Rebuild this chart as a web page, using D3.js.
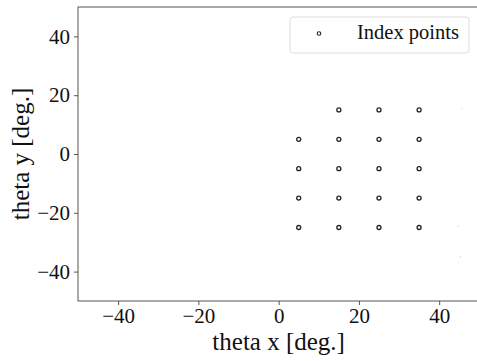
<!DOCTYPE html>
<html>
<head>
<meta charset="utf-8">
<script src="https://cdn.jsdelivr.net/npm/d3@7"></script>
<style>
  body { margin: 0; background: #fff; }
  svg { display: block; font-family: 'Liberation Serif', 'DejaVu Serif', serif; }
</style>
</head>
<body>
<svg id="chart" width="477" height="361"></svg>
<script>
// index point grid (deg.)
const pointX = [15, 25, 35, 5, 15, 25, 35, 5, 15, 25, 35, 5, 15, 25, 35, 5, 15, 25, 35];
const pointY = [15, 15, 15, 5, 5, 5, 5, -5, -5, -5, -5, -15, -15, -15, -15, -25, -25, -25, -25];
// barely visible marks near the right edge
const faintX = [45.7, 44.8, 45.3];
const faintY = [15.5, -24.6, -35];
const xTicks = [-40, -20, 0, 20, 40];
const yTicks = [-40, -20, 0, 20, 40];

const svg = d3.select('#chart');
const plotLeft = 78, plotTop = 7, plotBottom = 301;

const x = d3.scaleLinear().domain([-50, 50]).range([plotLeft, 479.3]);
const y = d3.scaleLinear().domain([-50, 50]).range([plotBottom, plotTop]);

const points = pointX.map((v, i) => ({ x: v, y: pointY[i] }));
const faint = faintX.map((v, i) => ({ x: v, y: faintY[i] }));

// frame
svg.append('rect')
  .attr('x', x(-50)).attr('y', y(50))
  .attr('width', x(50) - x(-50)).attr('height', y(-50) - y(50))
  .attr('fill', 'none').attr('stroke', '#555').attr('stroke-width', 1);

const fmt = d => d < 0 ? '\u2212' + Math.abs(d) : d;

const xAxis = svg.append('g')
  .attr('transform', `translate(0,${plotBottom})`)
  .call(d3.axisBottom(x).tickValues(xTicks).tickSize(4).tickPadding(3).tickFormat(fmt));
const yAxis = svg.append('g')
  .attr('transform', `translate(${plotLeft},0)`)
  .call(d3.axisLeft(y).tickValues(yTicks).tickSize(4).tickPadding(4).tickFormat(fmt));

[xAxis, yAxis].forEach(a => {
  a.select('.domain').remove();
  a.selectAll('line').attr('stroke', '#555');
  a.selectAll('text').attr('fill', '#111').style('font-size', '21px').style('font-family', 'Liberation Serif, serif');
});

svg.append('text')
  .attr('x', x(0)).attr('y', 350)
  .attr('text-anchor', 'middle')
  .style('font-size', '25px').attr('fill', '#111')
  .text('theta x [deg.]');

svg.append('text')
  .attr('transform', `translate(29,${y(0)}) rotate(-90)`)
  .attr('text-anchor', 'middle')
  .style('font-size', '25px').attr('fill', '#111')
  .text('theta y [deg.]');

svg.append('g').selectAll('circle')
  .data(points)
  .join('circle')
  .attr('cx', d => x(d.x))
  .attr('cy', d => y(d.y))
  .attr('r', 2)
  .attr('fill', 'none')
  .attr('stroke', '#222')
  .attr('stroke-width', 1.3);

svg.append('g').selectAll('circle')
  .data(faint)
  .join('circle')
  .attr('cx', d => x(d.x))
  .attr('cy', d => y(d.y))
  .attr('r', 0.8)
  .attr('fill', '#ddd');

// legend
const lg = svg.append('g');
lg.append('rect')
  .attr('x', 290).attr('y', 17).attr('width', 179).attr('height', 36)
  .attr('rx', 3)
  .attr('fill', '#fff').attr('stroke', '#ddd').attr('stroke-width', 1);
lg.append('circle')
  .attr('cx', 319).attr('cy', 33.5).attr('r', 1.8)
  .attr('fill', 'none').attr('stroke', '#222').attr('stroke-width', 1.1);
lg.append('text')
  .attr('x', 357).attr('y', 39)
  .style('font-size', '20.5px').attr('fill', '#111')
  .text('Index points');
</script>
</body>
</html>
